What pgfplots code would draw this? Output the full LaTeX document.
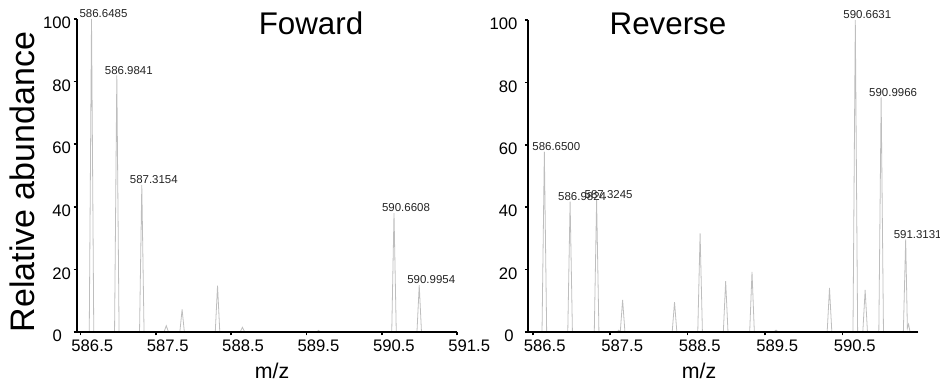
\documentclass[border=0pt]{standalone}
\usepackage{pgfplots}
\pgfplotsset{compat=1.18}
\usepackage{pgfplotstable}
\usepackage{fontspec}
\setmainfont{Liberation Sans}

\definecolor{peakline}{RGB}{190,190,190}
\definecolor{peaktext}{RGB}{35,35,35}

% Forward spectrum: each peak drawn as a narrow profile (m/z, relative abundance)
\pgfplotstableread{
x y
586.456 0
586.6185 0
586.6485 100
586.6785 0
586.9541 0
586.9841 82
587.0141 0
587.2854 0
587.3154 47
587.3454 0
587.61 0
587.64 2
587.67 0
587.82 0
587.85 7.2
587.88 0
588.29 0
588.32 14.8
588.35 0
588.62 0
588.65 1.5
588.68 0
589.63 0
589.66 0.5
589.69 0
590.6308 0
590.6608 38
590.6908 0
590.9654 0
590.9954 15
591.0254 0
591.50 0
}\forwardtbl

% Reverse spectrum
\pgfplotstableread{
x y
586.443 0
586.62 0
586.65 57.8
586.68 0
586.9524 0
586.9824 41.8
587.0124 0
587.2945 0
587.3245 42.3
587.3545 0
587.59 0
587.61 0.6
587.63 0
587.66 10.3
587.69 0
588.30 0
588.33 9.6
588.36 0
588.63 0
588.66 31.6
588.69 0
588.96 0
588.99 16.3
589.02 0
589.30 0
589.33 19.3
589.36 0
589.61 0
589.64 0.6
589.67 0
590.30 0
590.33 14.1
590.36 0
590.6331 0
590.6631 100
590.6931 0
590.76 0
590.79 13.5
590.82 0
590.9666 0
590.9966 75.2
591.0266 0
591.2831 0
591.3131 29.7
591.335 1.2
591.35 2.5
591.37 0
591.476 0
}\reversetbl

\pgfplotsset{
  spectrum/.style={
    scale only axis, clip=false, axis on top,
    axis x line*=bottom, axis y line*=left,
    axis line style={line width=1.6pt, black, -},
    tick align=outside, major tick length=2.6pt,
    tick style={line width=1.2pt, black},
    xtick pos=bottom, ytick pos=left,
    ymin=0, ymax=100,
    ytick={0,20,40,60,80,100},
    ticklabel style={font=\fontsize{12.5}{15}\selectfont},
    /pgf/number format/assume math mode=true,
    xticklabel style={xshift=9pt},
  },
}
\tikzset{
  peaklabel/.style={font=\fontsize{8.6}{10}\selectfont, text=peaktext,
    anchor=south, inner sep=0.6pt, xshift=9pt},
}

\def\u{0.75pt}

\begin{document}
\begin{tikzpicture}
\path[use as bounding box] (0,0) rectangle (940*\u,-382*\u);

% Forward panel
\begin{axis}[spectrum,
  at={(77*\u,-332*\u)}, anchor=south west,
  width=285.2pt, height=234.75pt,
  xmin=586.456, xmax=591.5,
  xtick={586.5,587.5,588.5,589.5,590.5,591.5},
  xticklabels={586.5,587.5,588.5,589.5,590.5,591.5},
  yticklabels={{0\kern6.75pt},20,40,60,80,100},
  yticklabel style={xshift=1.5pt, yshift=-3pt},
]
\addplot[peakline, line width=0.6pt] table {\forwardtbl};
\node[peaklabel] at (axis cs:586.6485,100) {586.6485};
\node[peaklabel] at (axis cs:586.9841,82) {586.9841};
\node[peaklabel] at (axis cs:587.3154,47) {587.3154};
\node[peaklabel] at (axis cs:590.6608,38) {590.6608};
\node[peaklabel] at (axis cs:590.9954,15) {590.9954};
\end{axis}

% Reverse panel
\begin{axis}[spectrum,
  at={(528.3*\u,-332*\u)}, anchor=south west,
  width=292.5pt, height=234pt,
  xmin=586.443, xmax=591.476,
  xtick={586.5,587.5,588.5,589.5,590.5},
  xticklabels={586.5,587.5,588.5,589.5,590.5},
  yticklabels={{0\kern2.8pt},20,40,60,80,100},
  yticklabel style={xshift=-2pt, yshift=-3pt},
]
\addplot[peakline, line width=0.6pt] table {\reversetbl};
\node[peaklabel] at (axis cs:586.6500,57.8) {586.6500};
\node[peaklabel] at (axis cs:586.9824,41.8) {586.9824};
\node[peaklabel] at (axis cs:587.3245,42.3) {587.3245};
\node[peaklabel] at (axis cs:590.6631,100) {590.6631};
\node[peaklabel] at (axis cs:590.9966,75.2) {590.9966};
\node[peaklabel] at (axis cs:591.3131,29.7) {591.3131};
\end{axis}

% Titles and axis labels
\node[anchor=base, font=\fontsize{23.5}{28}\selectfont] at (311*\u,-35*\u) {Foward};
\node[anchor=base, font=\fontsize{23.5}{28}\selectfont] at (668*\u,-35*\u) {Reverse};
\node[anchor=base, rotate=90, font=\fontsize{25.5}{30}\selectfont] at (35*\u,-182*\u) {Relative abundance};
\node[anchor=base, font=\fontsize{16}{19}\selectfont] at (272*\u,-378*\u) {m/z};
\node[anchor=base, font=\fontsize{16}{19}\selectfont] at (699*\u,-378*\u) {m/z};
\end{tikzpicture}
\end{document}
